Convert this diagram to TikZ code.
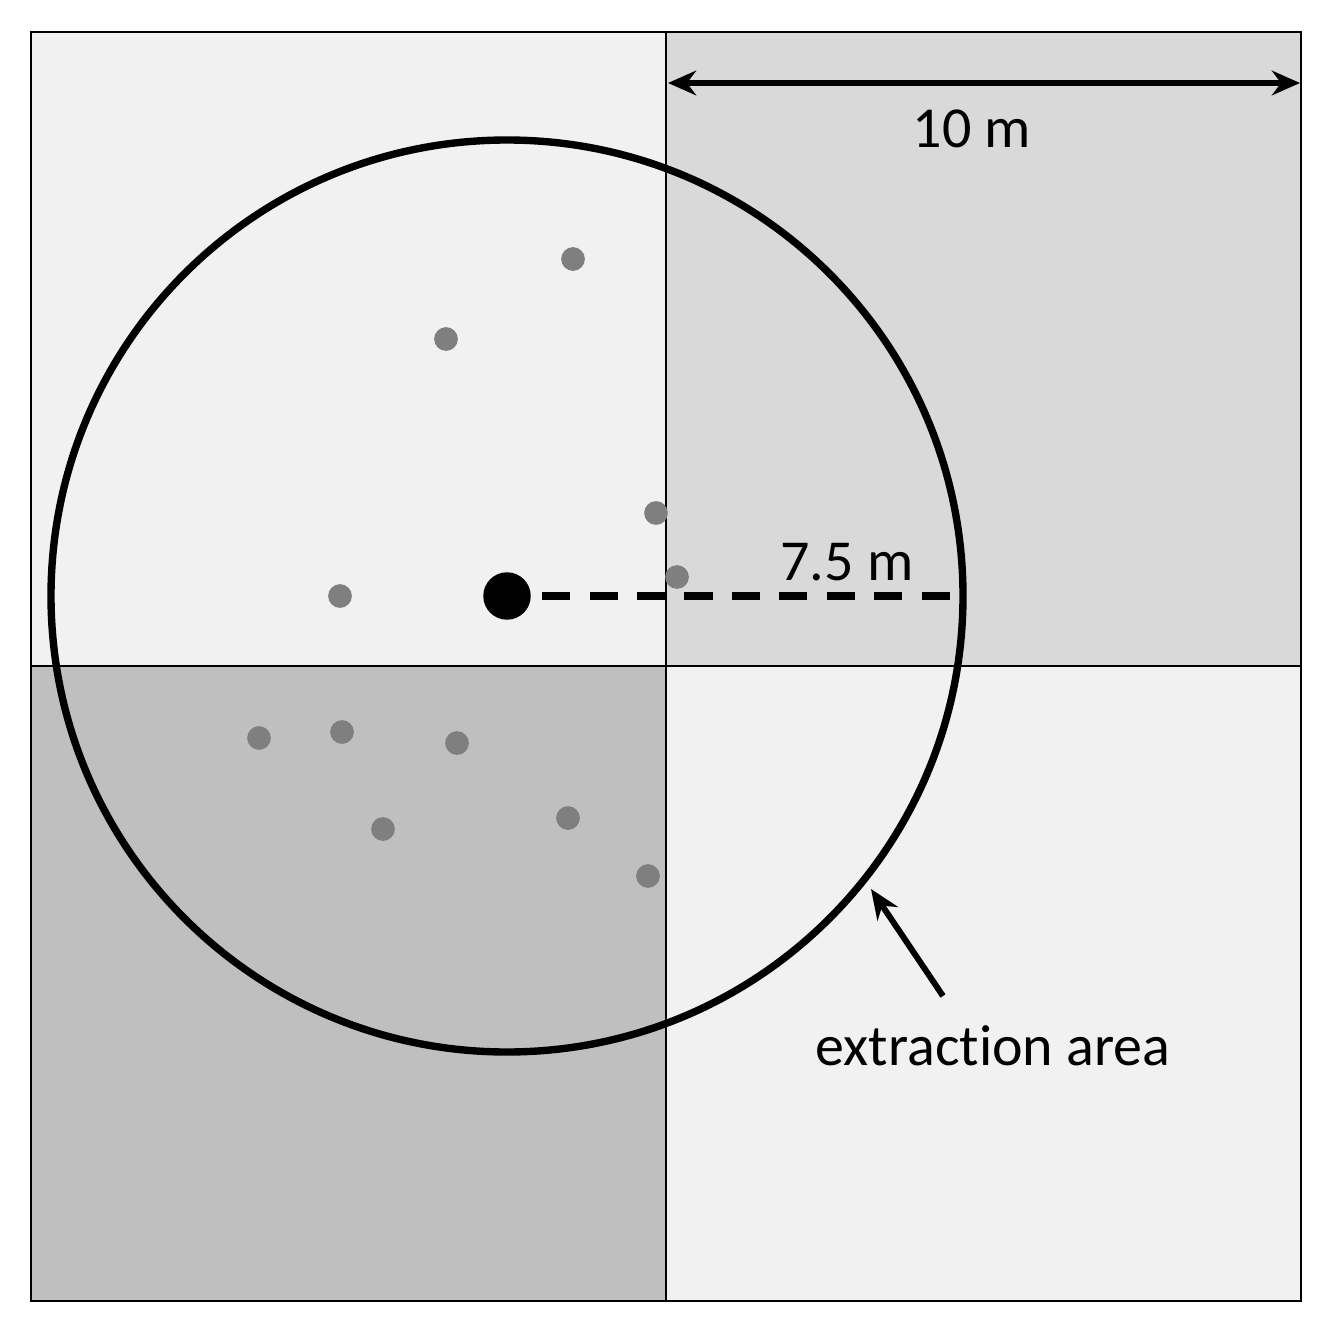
\documentclass[tikz,border=0pt]{standalone}
\usepackage{fontspec}
\setmainfont{Carlito}[Ligatures=NoCommon]
\usetikzlibrary{arrows.meta}
\definecolor{qlight}{HTML}{F1F1F1}
\definecolor{qmid}{HTML}{D9D9D9}
\definecolor{qdark}{HTML}{BFBFBF}
\definecolor{dotgray}{HTML}{7F7F7F}
\tikzset{
  quad/.style={draw=black, line width=1.2pt},
  tree/.style={circle, fill=dotgray, inner sep=0pt, minimum size=13.5pt},
  lbl/.style={font=\fontsize{33}{40}\selectfont, inner sep=0pt},
  dimarrow/.style={line width=3pt, {Stealth[length=16pt,width=14pt]}-{Stealth[length=16pt,width=14pt]}},
  ptr/.style={line width=3.4pt, -{Stealth[length=17pt,width=14pt]}}
}
\begin{document}
\begin{tikzpicture}[x=0.02cm, y=-0.02cm]
\useasboundingbox (0,0) rectangle (1327,1331);
\fill[white] (0,0) rectangle (1327,1331);
% quadrants
\fill[qlight] (31,32) rectangle (666,666);
\fill[qmid] (666,32) rectangle (1301,666);
\fill[qdark] (31,666) rectangle (666,1301);
\fill[qlight] (666,666) rectangle (1301,1301);
\draw[quad] (31,32) rectangle (1301,1301);
\draw[quad] (666,32) -- (666,1301);
\draw[quad] (31,666) -- (1301,666);
% trees
\foreach \p/\n in {{(573,259)}/t1,{(446,339)}/t2,{(656,513)}/t3,{(677,577)}/t4,{(340,596)}/t5,{(259,738)}/t6,{(342,732)}/t7,{(457,743)}/t8,{(383,829)}/t9,{(568,818)}/t10,{(648,876)}/t11}
  \node[tree] (\n) at \p {};
% circle
\node[circle, fill=black, inner sep=0pt, minimum size=27pt] (c) at (507,596) {};
\draw[line width=4.2pt] (507,596) circle (456);
\coordinate (re) at (963,596);
\draw[line width=4pt, dash pattern=on 16pt off 11pt] ([xshift=20pt]c.center) -- (re);
\node[lbl] (r) at (847,562) {7.5 m};
% 10 m dimension
\coordinate (dl) at (668,83);
\coordinate (dr) at (1300,83);
\draw[dimarrow] (dl) -- (dr);
\node[lbl] (d) at (972,129) {10 m};
% extraction area
\node[lbl] (ea) at (993,1046) {extraction area};
\coordinate (as) at (943,996);
\coordinate (ae) at (871,889);
\draw[ptr] (as) -- (ae);
\end{tikzpicture}
\end{document}
